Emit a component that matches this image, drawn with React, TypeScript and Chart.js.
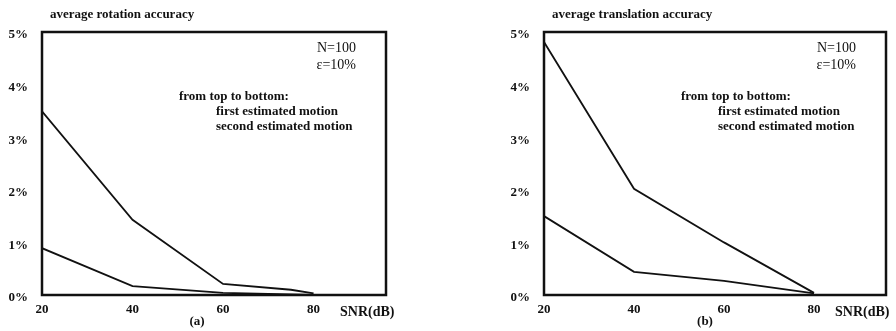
import React, { useEffect, useRef } from "react";
import { Chart, registerables } from "chart.js";

Chart.register(...registerables);

const xTicks = [20, 40, 60, 80];
const yTicks = [0, 1, 2, 3, 4, 5];

const rotFirstX = [20, 40, 60, 75, 80];
const rotFirstY = [3.49, 1.43, 0.21, 0.1, 0.03];
const rotSecondX = [20, 40, 60, 80];
const rotSecondY = [0.89, 0.17, 0.04, 0.0];

const transFirstX = [20, 40, 60, 80];
const transFirstY = [4.81, 2.02, 1.0, 0.04];
const transSecondX = [20, 40, 60, 80];
const transSecondY = [1.5, 0.44, 0.27, 0.03];

const FONT = "'Liberation Serif', 'Times New Roman', serif";
const INK = "#111";

type Series = { x: number[]; y: number[] };
type Cfg = {
  title: string;
  caption: string;
  series: Series[];
  padLeft: number;
  padRight: number;
  snrOffset: number;
  captionOffset: number;
};

const charts: Cfg[] = [
  {
    title: "average rotation accuracy",
    caption: "(a)",
    series: [
      { x: rotFirstX, y: rotFirstY },
      { x: rotSecondX, y: rotSecondY },
    ],
    padLeft: 0,
    padRight: 62,
    snrOffset: 46,
    captionOffset: 155,
  },
  {
    title: "average translation accuracy",
    caption: "(b)",
    series: [
      { x: transFirstX, y: transFirstY },
      { x: transSecondX, y: transSecondY },
    ],
    padLeft: 54,
    padRight: 10,
    snrOffset: 51,
    captionOffset: 161,
  },
];

function makeAnnot(cfg: Cfg) {
  return {
    id: "annot",
    afterDatasetsDraw(chart: any) {
      const { ctx, chartArea } = chart;
      const { left, right, top, bottom } = chartArea;
      ctx.save();
      ctx.strokeStyle = INK;
      ctx.lineWidth = 2.5;
      ctx.strokeRect(left, top, right - left, bottom - top);
      ctx.fillStyle = INK;
      ctx.textBaseline = "middle";
      ctx.font = `bold 13px ${FONT}`;
      ctx.textAlign = "left";
      ctx.fillText(cfg.title, left + 8, top - 17);
      ctx.textAlign = "right";
      ctx.font = `14px ${FONT}`;
      ctx.fillText("N=100", right - 30, top + 16);
      ctx.fillText("\u03b5=10%", right - 30, top + 33);
      ctx.textAlign = "left";
      ctx.font = `bold 13px ${FONT}`;
      ctx.fillText("from top to bottom:", left + 137, top + 65);
      ctx.fillText("first estimated motion", left + 174, top + 80);
      ctx.fillText("second estimated motion", left + 174, top + 95);
      ctx.font = `bold 14px ${FONT}`;
      ctx.fillText("SNR(dB)", right - cfg.snrOffset, bottom + 17);
      ctx.textAlign = "center";
      ctx.font = `bold 13px ${FONT}`;
      ctx.fillText(cfg.caption, left + cfg.captionOffset, bottom + 27);
      ctx.restore();
    },
  };
}

function Panel({ cfg }: { cfg: Cfg }) {
  const ref = useRef<HTMLCanvasElement | null>(null);
  useEffect(() => {
    if (!ref.current) return;
    const tickFont = { family: FONT, size: 13, weight: "bold" as const };
    const chart = new Chart(ref.current, {
      type: "line",
      data: {
        datasets: cfg.series.map((s) => ({
          data: s.x.map((x, i) => ({ x, y: s.y[i] })),
          borderColor: INK,
          borderWidth: 1.8,
          pointRadius: 0,
          fill: false,
          tension: 0,
        })),
      },
      options: {
        responsive: false,
        animation: false,
        devicePixelRatio: 1,
        layout: { padding: { left: cfg.padLeft, right: cfg.padRight, top: 32, bottom: 0 } },
        plugins: {
          legend: { display: false },
          tooltip: { enabled: false },
          title: { display: false },
        },
        scales: {
          x: {
            type: "linear",
            min: 20,
            max: 96,
            grid: { display: false, drawTicks: false },
            border: { display: false },
            afterBuildTicks: (s: any) => {
              s.ticks = xTicks.map((v) => ({ value: v }));
            },
            afterFit: (s: any) => {
              s.height = 36;
            },
            ticks: { padding: 7, color: INK, font: tickFont, autoSkip: false, maxRotation: 0 },
          },
          y: {
            type: "linear",
            min: 0,
            max: 5,
            grid: { display: false, drawTicks: false },
            border: { display: false },
            afterBuildTicks: (s: any) => {
              s.ticks = yTicks.map((v) => ({ value: v }));
            },
            afterFit: (s: any) => {
              s.width = 42;
            },
            ticks: { padding: 14, labelOffset: 3, color: INK, font: tickFont, callback: (v: any) => `${v}%` },
          },
        },
      } as any,
      plugins: [makeAnnot(cfg)],
    });
    return () => chart.destroy();
  }, [cfg]);
  return <canvas ref={ref} width={448} height={331} style={{ display: "block" }} />;
}

export default function App() {
  return (
    <div
      style={{
        position: "absolute",
        left: 0,
        top: 0,
        width: 896,
        height: 331,
        display: "flex",
        background: "#fff",
      }}
    >
      {charts.map((c, i) => (
        <Panel key={i} cfg={c} />
      ))}
    </div>
  );
}
